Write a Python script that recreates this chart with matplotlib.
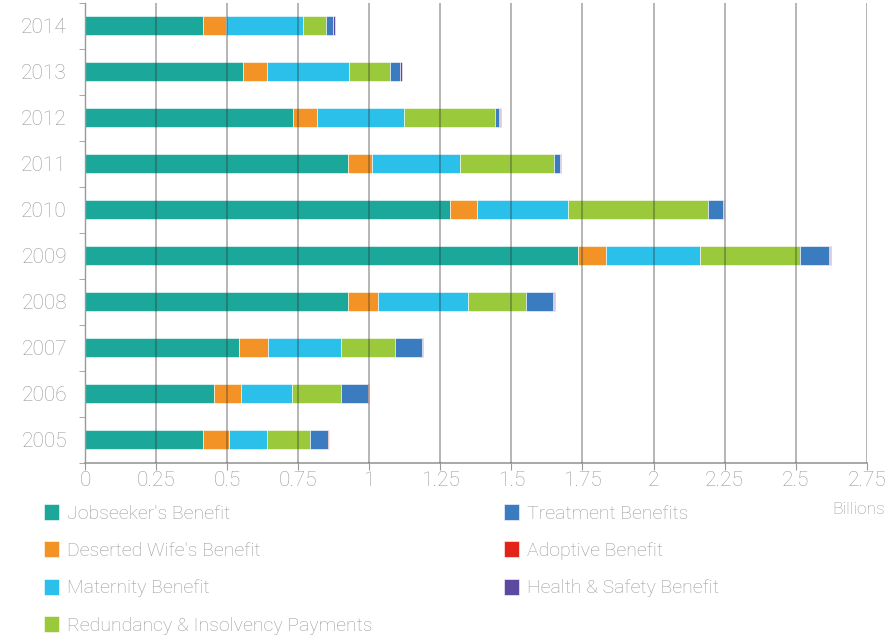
import matplotlib
matplotlib.use("Agg")
import matplotlib.pyplot as plt
import numpy as np

years = ["2005", "2006", "2007", "2008", "2009", "2010", "2011", "2012", "2013", "2014"]
series_names = ["Jobseeker's Benefit", "Deserted Wife's Benefit", "Maternity Benefit",
                "Redundancy & Insolvency Payments", "Treatment Benefits",
                "Adoptive Benefit", "Health & Safety Benefit"]
jobseekers = [0.415, 0.454, 0.542, 0.925, 1.735, 1.284, 0.925, 0.733, 0.556, 0.415]
deserted_wife = [0.093, 0.096, 0.102, 0.107, 0.098, 0.096, 0.084, 0.084, 0.084, 0.081]
maternity = [0.132, 0.179, 0.256, 0.316, 0.331, 0.320, 0.310, 0.306, 0.289, 0.271]
redundancy = [0.150, 0.171, 0.189, 0.202, 0.351, 0.491, 0.330, 0.319, 0.145, 0.080]
treatment = [0.066, 0.097, 0.095, 0.096, 0.103, 0.054, 0.022, 0.016, 0.034, 0.026]
adoptive = [0.001, 0.001, 0.001, 0.003, 0.002, 0.001, 0.001, 0.001, 0.001, 0.001]
health_safety = [0.002, 0.002, 0.003, 0.005, 0.003, 0.002, 0.003, 0.003, 0.005, 0.004]
colors = ["#1BA89A", "#F39325", "#2BC0EA", "#9BC93C", "#3A7CBF", "#E2231A", "#5B4A9F"]
x_ticks = [0, 0.25, 0.5, 0.75, 1, 1.25, 1.5, 1.75, 2, 2.25, 2.5, 2.75]
x_tick_labels = ["0", "0.25", "0.5", "0.75", "1", "1.25", "1.5", "1.75", "2", "2.25", "2.5", "2.75"]

series = [jobseekers, deserted_wife, maternity, redundancy, treatment, adoptive, health_safety]

FONT = ["Roboto", "DejaVu Sans"]
TXT = "#999999"

fig = plt.figure(figsize=(8.96, 6.41), dpi=100)
ax = fig.add_axes([85 / 896, 1 - 462.7 / 641, (866.7 - 85) / 896, 460 / 641])

y = np.arange(len(years))
left = np.zeros(len(years))
handles = []
for name, vals, c in zip(series_names, series, colors):
    vals = np.array(vals)
    h = ax.barh(y, vals, left=left, height=0.42, color=c, edgecolor="#ffffff",
                linewidth=0.4, label=name, zorder=2)
    handles.append(h)
    left += vals

ax.set_xlim(0, 2.75)
ax.set_ylim(-0.5, len(years) - 0.5)
ax.set_xticks(x_ticks)
ax.set_xticklabels(x_tick_labels, fontfamily=FONT, fontweight="light", fontsize=15, color=TXT)
ax.set_yticks(y)
ax.set_yticklabels(years, fontfamily=FONT, fontweight="light", fontsize=15, color=TXT)
ax.set_yticks(np.arange(-0.5, len(years) - 0.4, 1), minor=True)
ax.tick_params(axis="y", which="major", length=0, pad=13)
ax.tick_params(axis="y", which="minor", length=4, color="#999999", direction="out")
ax.tick_params(axis="x", which="major", length=5, color="#999999", pad=1)

for xv in x_ticks[1:]:
    ax.axvline(xv, color="#333333", alpha=0.42, linewidth=1.2, zorder=3)

for s in ["top", "right"]:
    ax.spines[s].set_visible(False)
ax.spines["left"].set_color("#999999")
ax.spines["bottom"].set_color("#999999")
ax.spines["left"].set_linewidth(1.0)
ax.spines["bottom"].set_linewidth(1.2)

fig.text(885 / 896, 1 - 509 / 641, "Billions", ha="right", va="center",
         fontfamily=FONT, fontweight="light", fontsize=12.5, color=TXT)

leg_kw = dict(frameon=False, handlelength=0.75, handleheight=0.9, handletextpad=0.45,
              labelspacing=0.95, borderpad=0, borderaxespad=0,
              prop={"family": FONT, "weight": "light", "size": 14}, labelcolor=TXT)
leg1 = fig.legend(handles[:4], series_names[:4], loc="upper left",
                  bbox_to_anchor=(44 / 896, 1 - 504 / 641), **leg_kw)
leg2 = fig.legend(handles[4:], series_names[4:], loc="upper left",
                  bbox_to_anchor=(504 / 896, 1 - 504 / 641), **leg_kw)

fig.savefig("out.png", dpi=100)
